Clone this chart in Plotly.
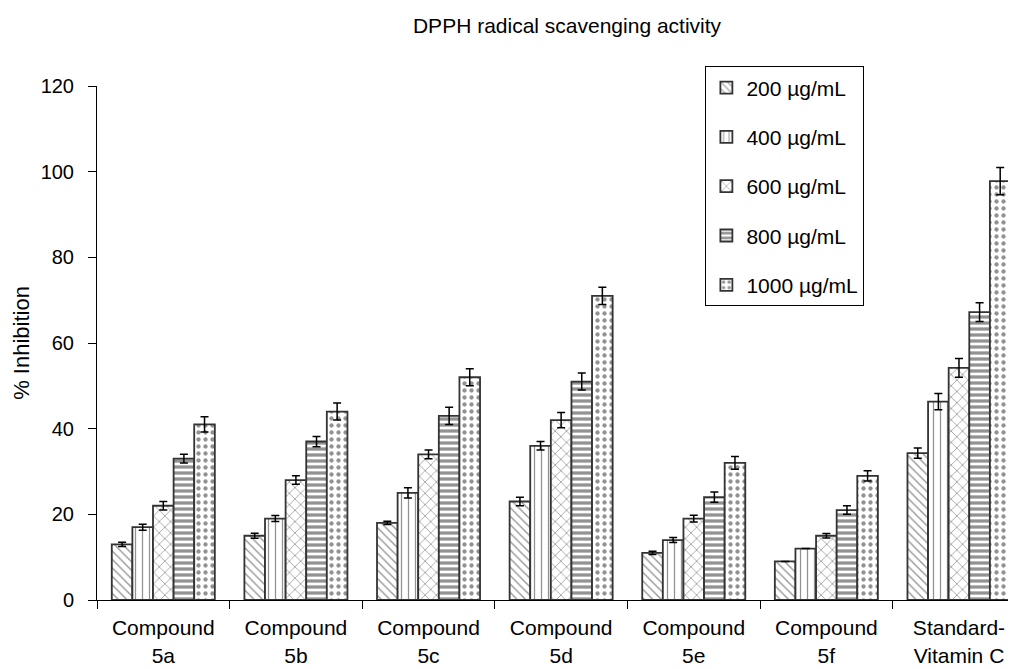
import plotly.graph_objects as go

categories = ["Compound<br>5a", "Compound<br>5b", "Compound<br>5c", "Compound<br>5d",
              "Compound<br>5e", "Compound<br>5f", "Standard-<br>Vitamin C"]
series_names = ["200 µg/mL", "400 µg/mL", "600 µg/mL", "800 µg/mL", "1000 µg/mL"]

v200 = [13, 15, 18, 23, 11, 9, 34.3]
v400 = [17, 19, 25, 36, 14, 12, 46.3]
v600 = [22, 28, 34, 42, 19, 15, 54.2]
v800 = [33, 37, 43, 51, 24, 21, 67.2]
v1000 = [41, 44, 52, 71, 32, 29, 97.8]

e200 = [0.5, 0.6, 0.4, 1.0, 0.4, 0.0, 1.2]
e400 = [0.7, 0.7, 1.2, 1.0, 0.6, 0.0, 1.9]
e600 = [1.0, 1.0, 1.0, 1.8, 0.8, 0.5, 2.2]
e800 = [1.0, 1.2, 2.0, 2.0, 1.2, 1.0, 2.2]
e1000 = [1.8, 2.0, 2.0, 2.0, 1.5, 1.2, 3.2]

values = [v200, v400, v600, v800, v1000]
errors = [e200, e400, e600, e800, e1000]
patterns = [
    dict(shape="\\", size=6, solidity=0.22),
    dict(shape="|", size=7, solidity=0.18),
    dict(shape="x", size=8, solidity=0.18),
    dict(shape="-", size=6, solidity=0.55),
    dict(shape=".", size=7, solidity=0.3),
]

font = "Arial, Liberation Sans, sans-serif"
fig = go.Figure()
for i, name in enumerate(series_names):
    p = patterns[i]
    fig.add_trace(go.Bar(
        x=categories, y=values[i], name=name, legendgroup=name,
        marker=dict(color="white", line=dict(color="#333333", width=1.8),
                    pattern=dict(shape=p["shape"], size=p["size"], solidity=p["solidity"],
                                 fgcolor="#262626", bgcolor="white", fillmode="overlay")),
        error_y=dict(type="data", array=errors[i], color="black", thickness=1.5, width=4),
    ))

fig.update_layout(
    width=1008, height=661,
    paper_bgcolor="white", plot_bgcolor="white",
    margin=dict(l=89, r=0, t=78, b=69),
    barmode="group", bargap=0.223, bargroupgap=0,
    font=dict(family=font, size=20, color="black"),
    title=dict(text="DPPH radical scavenging activity", x=0.5546, xref="container",
               xanchor="center", y=0.973, yanchor="middle", font=dict(size=21, family=font)),
    legend=dict(x=0.662, y=1.038, xanchor="left", yanchor="top",
                bordercolor="black", borderwidth=1, bgcolor="white",
                font=dict(size=21, family=font), tracegroupgap=19,
                itemwidth=30),
    xaxis=dict(range=[-0.5, 6.43], showline=True, linecolor="black", linewidth=1,
               ticks="outside", tickson="boundaries", ticklen=8, tickcolor="black",
               showgrid=False, tickfont=dict(size=21), ticklabelstandoff=9),
    yaxis=dict(range=[0, 120], dtick=20, showline=True, linecolor="black", linewidth=1,
               ticks="outside", ticklen=8, tickcolor="black", showgrid=False,
               zeroline=False, tickfont=dict(size=20), ticklabelstandoff=10,
               title=dict(text="% Inhibition", font=dict(size=22), standoff=4)),
)
fig.write_html("out.html")
